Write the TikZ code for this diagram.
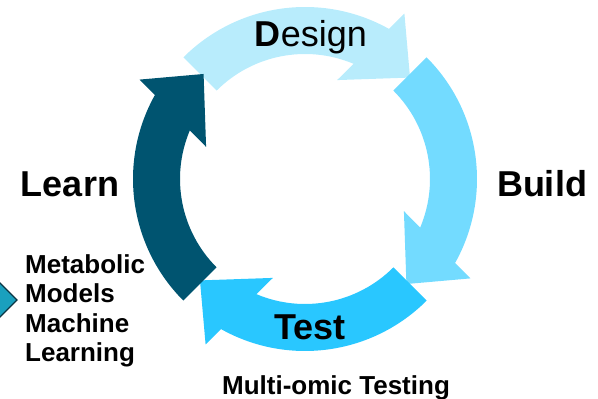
\documentclass[tikz,border=0pt]{standalone}
\usepackage{fontspec}
\setmainfont{Liberation Sans}

\definecolor{designblue}{HTML}{B8ECFC}
\definecolor{buildblue}{HTML}{73DBFF}
\definecolor{testblue}{HTML}{29C7FF}
\definecolor{learnblue}{HTML}{005470}
\definecolor{markerteal}{HTML}{1AA0BE}
\definecolor{markerline}{HTML}{0B3442}

% one quarter of the cycle, tail at 135 deg, head near 44 deg
\tikzset{
  pics/cyclearrow/.style = {code = {
    \fill[#1] (135:172) arc[start angle=135, end angle=60.8, radius=172]
      -- (59:193) -- (44:146) -- (72:104) -- (67.1:125)
      arc[start angle=67.1, end angle=135, radius=125] -- cycle;
  }}
}

\begin{document}
\begin{tikzpicture}[
  x = 1pt, y = 1pt,
  stage/.style = {font = \fontsize{36}{40}\selectfont\bfseries, anchor = base, inner sep = 0},
  note/.style = {font = \fontsize{26}{29.5}\selectfont\bfseries, inner sep = 0}
  ]
  \useasboundingbox (0,0) rectangle (598,399);
  \coordinate (hub) at (305,220);

  % the four stages
  \pic[rotate = 0]    at (hub) {cyclearrow = designblue};
  \pic[rotate = -90]  at (hub) {cyclearrow = buildblue};
  \pic[rotate = -180] at (hub) {cyclearrow = testblue};
  \pic[rotate = -270] at (hub) {cyclearrow = learnblue};

  \node[stage, font = \fontsize{36}{40}\selectfont] (design) at (311,352) {\textbf{D}esign};
  \node[stage] (build) at (542,202) {Build};
  \node[stage] (test) at (310,59) {Test};
  \node[stage] (learn) at (70,202) {Learn};

  \node[note, anchor = base] (omics) at (336,4) {Multi-omic Testing};
  \node[note, anchor = north west, align = left] (models) at (25,145)
    {Metabolic\\Models\\Machine\\Learning};

  % marker cut by the left edge
  \begin{scope}
    \clip (0,0) rectangle (598,399);
    \filldraw[fill = markerteal, draw = markerline, line width = 1.2]
      (-17,99) -- (0,116) -- (17,99) -- (0,82) -- cycle;
  \end{scope}
\end{tikzpicture}
\end{document}
